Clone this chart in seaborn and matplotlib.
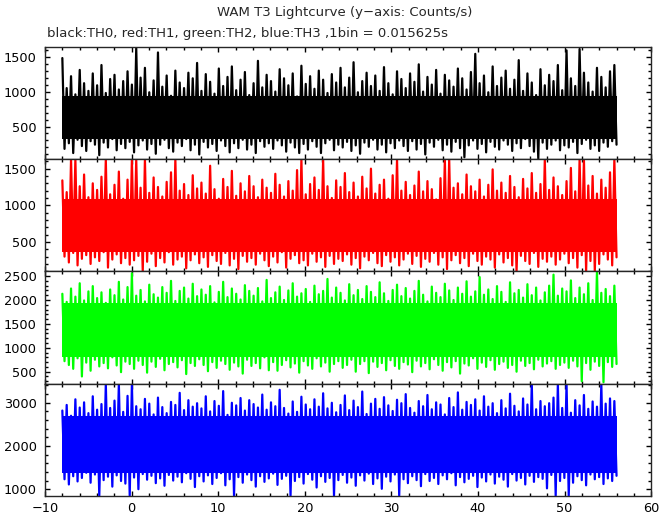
import numpy as np
import seaborn as sns
import matplotlib
matplotlib.use("Agg")
import matplotlib.pyplot as plt
from matplotlib.ticker import MultipleLocator

# time range of the light curve (s)
t_start, t_stop = -8.0, 56.0

# spike tops and dips (counts/s), left to right
th0_peaks = [1480, 1050, 1220, 960, 1310, 1120, 1010, 1260, 1090, 1380, 980, 1180, 1240, 1030, 1150, 1290,
             1100, 1620, 1200, 1340, 990, 1160, 1560, 1070, 1230, 940, 1300, 1130, 1050, 1270, 1190, 1410,
             1010, 1250, 1140, 970, 1330, 1080, 1210, 1360, 1020, 1170, 1280, 950, 1120, 1440, 1060, 1240,
             1150, 1000, 1320, 1190, 1090, 1260, 930, 1370, 1110, 1220, 1040, 1300, 1170, 980, 1250, 1130,
             1340, 1060, 1200, 1420, 990, 1150, 1270, 1080, 1230, 1010, 1350, 1120, 960, 1290, 1180, 1050,
             1260, 1140, 1390, 1000, 1210, 1100, 1310, 970, 1240, 1160, 1070, 1330, 1190, 1030, 1280, 1540,
             1120, 1230, 990, 1360, 1080, 1200, 1300, 1040, 1170, 1450, 1010, 1260, 1130, 950, 1320, 1090,
             1240, 1150, 1380, 1020, 1590, 1190, 1080, 1610, 1270, 1130, 1000, 1340, 1210, 1060, 1290, 1380]
th0_dips = [180, 260, 120, 310, 220, 150, 290, 240, 90, 270, 200, 320, 160, 250, 190, 280,
            130, 230, 300, 170, 250, 110, 240, 310, 190, 140, 270, 220, 320, 160, 240, 100,
            280, 200, 250, 150, 300, 220, 130, 260, 190, 310, 170, 240, 120, 290, 210, 260,
            180, 300, 230, 140, 270, 200, 120, 250, 170, 290, 210, 120, 260, 310, 160, 240,
            200, 280, 150, 230, 110, 270, 210, 310, 170, 240, 130, 260, 190, 300, 220, 150,
            290, 170, 250, 100, 270, 210, 310, 160, 240, 140, 280, 190, 60, 230, 300, 180,
            250, 130, 280, 210, 170, 300, 240, 150, 260, 190, 320, 220, 140, 40, 270, 180,
            240, 300, 160, 230, 200, 280, 120, 250, 310, 180, 230, 150, 270, 210, 290, 240]

th1_peaks = [1340, 1180, 1630, 1630, 1260, 1420, 1110, 1300, 1210, 1390, 1630, 1150, 1280, 1460, 1090, 1350,
             1630, 1630, 1240, 1630, 1170, 1380, 1250, 1120, 1320, 1450, 1630, 1200, 1290, 1140, 1410, 1230,
             1310, 1160, 1540, 1220, 1090, 1360, 1250, 1470, 1130, 1300, 1190, 1400, 1260, 1110, 1350, 1240,
             1170, 1430, 1280, 1120, 1330, 1200, 1480, 1630, 1150, 1290, 1380, 1210, 1630, 1260, 1100, 1340,
             1250, 1440, 1180, 1310, 1120, 1390, 1230, 1500, 1160, 1280, 1350, 1090, 1410, 1630, 1200, 1320,
             1140, 1270, 1460, 1190, 1330, 1220, 1080, 1370, 1630, 1630, 1240, 1300, 1150, 1420, 1260, 1190,
             1350, 1120, 1280, 1490, 1200, 1310, 1170, 1400, 1250, 1110, 1360, 1230, 1440, 1170, 1290, 1630,
             1210, 1380, 1260, 1140, 1330, 1510, 1190, 1630, 1630, 1270, 1400, 1160, 1350, 1240, 1450, 1630]
th1_dips = [300, 220, 350, 180, 270, 320, 200, 290, 240, 360, 150, 260, 330, 210, 280, 190,
            250, 310, 100, 230, 340, 170, 280, 220, 360, 190, 260, 300, 140, 250, 330, 210,
            290, 160, 320, 240, 200, 350, 180, 270, 130, 310, 230, 280, 190, 340, 250, 170,
            300, 220, 360, 150, 270, 320, 210, 250, 180, 340, 230, 290, 160, 310, 200, 270,
            240, 330, 190, 280, 140, 300, 250, 350, 210, 170, 320, 230, 290, 180, 260, 340,
            200, 310, 160, 270, 230, 350, 190, 290, 130, 250, 320, 210, 280, 170, 340, 240,
            190, 300, 260, 150, 330, 220, 280, 180, 100, 310, 240, 200, 350, 160, 270, 230,
            300, 190, 260, 340, 210, 280, 150, 320, 100, 240, 100, 200, 330, 260, 180, 290]

th2_peaks = [2130, 1960, 2240, 2070, 2350, 1990, 2180, 2290, 2040, 2160, 1940, 2220, 2100, 2380, 2010, 2270,
             2560, 2090, 2210, 1970, 2320, 2120, 2050, 2270, 2150, 2400, 1980, 2190, 2260, 2030, 2340, 2080,
             2220, 2110, 2290, 1950, 2170, 2380, 2060, 2240, 2130, 2010, 2310, 2190, 2090, 2250, 1970, 2420,
             2040, 2160, 2280, 2000, 2200, 2350, 2070, 2140, 2230, 1960, 2300, 2120, 2190, 2440, 2050, 2260,
             2150, 1990, 2330, 2100, 2210, 2020, 2290, 2170, 2060, 2370, 2140, 1980, 2210, 2320, 2080, 2250,
             2030, 2190, 2400, 2110, 1970, 2280, 2150, 2060, 2340, 2200, 2000, 2260, 2130, 2390, 2070, 2180,
             2480, 2110, 2220, 2020, 2290, 2170, 1960, 2370, 2140, 2210, 2050, 2330, 2100, 2260, 1990, 2160,
             2300, 2530, 2090, 2240, 2180, 2410, 2040, 2260, 2120, 2350, 2000, 2600, 2150, 2230, 2080, 2300]
th2_dips = [720, 640, 560, 780, 400, 690, 520, 750, 610, 680, 570, 800, 630, 490, 710, 660,
            560, 730, 640, 480, 710, 600, 770, 530, 660, 700, 590, 740, 450, 680, 620, 760,
            640, 510, 700, 580, 730, 660, 540, 690, 610, 460, 750, 620, 680, 570, 800, 530,
            700, 520, 640, 740, 590, 670, 480, 720, 630, 560, 780, 610, 690, 500, 660, 720,
            580, 640, 750, 500, 660, 720, 470, 710, 600, 680, 530, 740, 620, 560, 700, 650,
            490, 730, 610, 680, 550, 760, 640, 520, 700, 590, 720, 460, 670, 630, 780, 560,
            690, 600, 740, 540, 660, 710, 580, 640, 500, 730, 620, 680, 550, 750, 610, 670,
            720, 560, 640, 690, 580, 730, 610, 300, 680, 540, 710, 620, 280, 700, 600, 660]

th3_peaks = [2820, 2950, 2700, 3080, 2890, 3010, 2760, 3150, 2840, 2970, 3440, 2880, 3050, 3440, 2790, 3160,
             3440, 2920, 2850, 3090, 2980, 2730, 3120, 2900, 2760, 3020, 2950, 3230, 2830, 3060, 2910, 2990,
             2870, 3150, 2800, 3040, 2930, 3270, 2720, 3000, 2940, 3110, 2820, 3060, 2970, 2890, 3190, 2840,
             3010, 2920, 3300, 2880, 2750, 3030, 2790, 3140, 2960, 2850, 3080, 2910, 3220, 2870, 3000, 2780,
             2950, 3170, 2830, 3050, 2900, 3260, 2740, 2980, 3090, 2860, 3130, 2940, 2810, 3070, 2990, 3200,
             2880, 2770, 3040, 2920, 3180, 2850, 3010, 2960, 2730, 3110, 2900, 3240, 2840, 3020, 2950, 3080,
             2820, 3150, 2910, 2990, 2760, 3060, 2870, 3210, 2930, 2800, 3100, 2960, 3440, 2850, 3040, 2920,
             2990, 3120, 3440, 2880, 3440, 2770, 3060, 2940, 3180, 2860, 3030, 2910, 3440, 2980, 3100, 3040]
th3_dips = [1230, 1110, 1300, 1180, 1260, 1380, 1150, 1340, 850, 1210, 1290, 1060, 1320, 1190, 1130, 850,
            1270, 1000, 1350, 1220, 1310, 1140, 1250, 1080, 1330, 1200, 1290, 1160, 1370, 1240, 1050, 1300,
            1180, 1320, 1120, 1260, 1370, 1090, 1230, 850, 1280, 1150, 1340, 1210, 1060, 1300, 1170, 1250,
            1360, 1100, 1240, 1310, 850, 1190, 1280, 1130, 1350, 1220, 1040, 1300, 1170, 1260, 850, 1210,
            1330, 1150, 1270, 1080, 1320, 1200, 1360, 1120, 1250, 1010, 1290, 1180, 1340, 850, 1230, 1140,
            1300, 1210, 1070, 1350, 1190, 1260, 1120, 1320, 1230, 1370, 1090, 1280, 1160, 1240, 1310, 1050,
            1270, 1180, 1340, 1130, 1290, 1220, 1060, 1350, 1200, 1260, 1110, 1310, 1170, 1280, 1240, 1020,
            1330, 850, 1190, 1260, 850, 1150, 1300, 1210, 1090, 1340, 1230, 1280, 1120, 1250, 1190, 1310]

title = "WAM T3 Lightcurve (y\u2212axis: Counts/s)"
subtitle = "black:TH0, red:TH1, green:TH2, blue:TH3 ,1bin = 0.015625s"

sns.set_style("ticks")
plt.rcParams["font.family"] = ["DejaVu Sans"]
plt.rcParams["axes.linewidth"] = 1.0

fig, axes = plt.subplots(4, 1, figsize=(6.72, 5.15), dpi=100, sharex=True)
fig.subplots_adjust(left=0.067, right=0.969, top=0.909, bottom=0.037, hspace=0)

panels = [
    (th0_peaks, th0_dips, "#000000", (33, 1640), 500, 100),
    (th1_peaks, th1_dips, "#ff0000", (98, 1630), 500, 100),
    (th2_peaks, th2_dips, "#00ff00", (249, 2598), 500, 100),
    (th3_peaks, th3_dips, "#0000ff", (844, 3442), 1000, 200),
]

for ax, (peaks, dips, color, ylim, major, minor) in zip(axes, panels):
    counts = np.column_stack([peaks, dips]).ravel()
    t = np.linspace(t_start, t_stop, len(counts))

    # the trace crosses the range between the highest dip and lowest peak
    # at every step, so that part is drawn solid like the dense original
    ax.fill_between([t_start, t_stop], max(dips), min(peaks), color=color, lw=0)
    sns.lineplot(x=t, y=counts, ax=ax, color=color, lw=1.6, estimator=None)

    ax.set_xlim(-10, 60)
    ax.set_ylim(ylim)
    ax.set_xlabel("")
    ax.set_ylabel("")
    ax.xaxis.set_major_locator(MultipleLocator(10))
    ax.xaxis.set_minor_locator(MultipleLocator(2))
    ax.yaxis.set_major_locator(MultipleLocator(major))
    ax.yaxis.set_minor_locator(MultipleLocator(minor))
    ax.tick_params(which="both", direction="in", top=True, right=True,
                   labelsize=9.3, width=1.0, colors="black")
    ax.tick_params(which="major", length=3.8, pad=6)
    ax.tick_params(which="minor", length=2.0)

axes[-1].tick_params(axis="x", pad=4)

fig.text(0.513, 0.975, title, ha="center", va="center", fontsize=9.5)
fig.text(0.07, 0.934, subtitle, ha="left", va="center", fontsize=9.5)

plt.savefig("out.png", dpi=100)
plt.close()
